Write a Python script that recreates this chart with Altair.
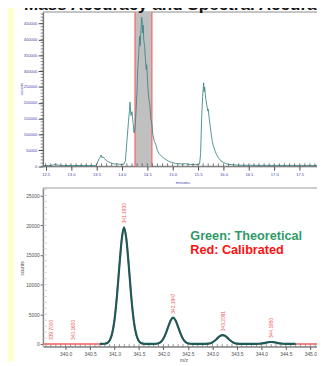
import altair as alt
import pandas as pd

W, H = 317, 358

# ---------------- chromatogram (top panel) ----------------
chrom_time = [12.45, 12.50, 12.55, 12.60, 12.65, 12.69, 12.72, 12.76, 12.80, 12.90,
              13.00, 13.10, 13.20, 13.30, 13.40, 13.48, 13.51, 13.54, 13.57, 13.59,
              13.61, 13.63, 13.66, 13.70, 13.74, 13.78, 13.82, 13.86, 13.90, 13.95,
              14.00, 14.04, 14.07, 14.10, 14.13, 14.15, 14.16, 14.18, 14.20, 14.22,
              14.24, 14.26, 14.28, 14.30, 14.31, 14.33, 14.35, 14.36, 14.38, 14.39,
              14.40, 14.41, 14.42, 14.43, 14.45, 14.46, 14.48, 14.49, 14.51, 14.53,
              14.55, 14.57, 14.59, 14.61, 14.64, 14.67, 14.70, 14.73, 14.77, 14.80,
              14.84, 14.88, 14.92, 14.96, 15.00, 15.05, 15.10, 15.15, 15.20, 15.25,
              15.30, 15.35, 15.40, 15.45, 15.50, 15.53, 15.55, 15.57, 15.59, 15.61,
              15.62, 15.63, 15.65, 15.67, 15.69, 15.70, 15.72, 15.74, 15.76, 15.78,
              15.80, 15.83, 15.86, 15.90, 15.95, 16.00, 16.05, 16.10, 16.20, 16.30,
              16.40, 16.50, 16.60, 16.70, 16.80, 16.90, 17.00, 17.10, 17.20, 17.30,
              17.40, 17.50, 17.60, 17.70, 17.80, 17.90, 18.00]
chrom_counts = [2000, 2300, 2100, 2400, 3800, 7000, 4500, 3200, 2600, 2200,
                2400, 2100, 2300, 2000, 2200, 2100, 6000, 20000, 28000, 35000,
                27000, 30000, 24000, 17000, 13500, 11000, 8500, 7000, 7500, 6000,
                5500, 6500, 17000, 80000, 140000, 175000, 202000, 160000, 172000, 138000,
                105000, 120000, 175000, 240000, 300000, 350000, 410000, 380000, 440000, 470000,
                455000, 420000, 445000, 400000, 375000, 345000, 305000, 320000, 255000, 215000,
                195000, 150000, 135000, 100000, 78000, 68000, 50000, 40000, 33000, 29000,
                24000, 20000, 16000, 13000, 12000, 9000, 8000, 7500, 7000, 8000,
                6500, 6000, 5500, 6000, 5000, 7000, 40000, 150000, 220000, 263000,
                235000, 250000, 215000, 195000, 175000, 180000, 150000, 125000, 100000, 78000,
                65000, 50000, 38000, 27000, 17000, 12000, 8000, 6000, 4300, 3200,
                3000, 2800, 3000, 2700, 2900, 2600, 2800, 2700, 2500, 2700,
                2600, 2500, 2700, 2600, 2500, 2600, 2500]
window_start = [14.26]
window_end = [14.59]

top_x_labels = [12.5, 13.0, 13.5, 14.0, 14.5, 15.0, 15.5, 16.0, 16.5, 17.0, 17.5]
top_x_minor = [round(12.5 + 0.1 * i, 1) for i in range(56)]
top_y_labels = [0, 50000, 100000, 150000, 200000, 250000, 300000, 350000, 400000, 450000]
top_y_minor = [10000 * i for i in range(49)]

# ---------------- mass spectrum (bottom panel) ----------------
spec_mz = [340.70, 340.75, 340.80, 340.85, 340.90, 340.95, 341.00, 341.05, 341.10, 341.15,
           341.193, 341.24, 341.29, 341.34, 341.39, 341.44, 341.49, 341.54, 341.59, 341.65,
           341.75, 341.80, 341.85, 341.90, 341.95, 342.00, 342.05, 342.10, 342.15, 342.195,
           342.245, 342.295, 342.345, 342.395, 342.445, 342.495, 342.545, 342.60, 342.70, 342.80,
           342.86, 342.91, 342.96, 343.01, 343.06, 343.11, 343.16, 343.208, 343.26, 343.31,
           343.36, 343.41, 343.46, 343.51, 343.56, 343.65, 343.80, 343.90, 343.95, 344.00,
           344.05, 344.10, 344.15, 344.195, 344.25, 344.30, 344.35, 344.40, 344.45, 344.50,
           344.60, 344.70]
spec_counts = [0, 20, 40, 160, 580, 1700, 4090, 8120, 13250, 17780,
               19650, 17780, 13250, 8120, 4090, 1700, 580, 160, 40, 0,
               0, 8, 37, 130, 380, 920, 1820, 2975, 3990, 4430,
               3990, 2975, 1820, 920, 380, 130, 37, 8, 0, 0,
               12, 44, 130, 314, 620, 1015, 1360, 1480, 1360, 1015,
               620, 314, 130, 44, 12, 0, 0, 10, 29, 69,
               137, 223, 300, 330, 300, 223, 137, 69, 29, 10,
               0, 0]
calib_left_mz = [339.54]
calib_right_mz = [345.50]

peak_mz = [339.7000, 340.1600, 341.1930, 342.1947, 343.2081, 344.1950]
peak_counts = [0, 0, 19650, 4430, 1480, 330]

bot_x_labels = [340.0, 340.5, 341.0, 341.5, 342.0, 342.5, 343.0, 343.5, 344.0, 344.5, 345.0]
bot_x_minor = [round(339.6 + 0.1 * i, 1) for i in range(60)]
bot_y_labels = [0, 5000, 10000, 15000, 20000, 25000]
bot_y_minor = [1000 * i for i in range(27)]

legend_lines = ["Green: Theoretical", "Red: Calibrated"]
title_text = "Mass Accuracy and Spectral Accuracy"

# ---------------- tables ----------------
chrom_df = pd.DataFrame({"t": chrom_time, "c": chrom_counts})
win_df = pd.DataFrame({"a": window_start, "b": window_end})
win_edges = pd.DataFrame({"t": window_start + window_end})
spec_df = pd.DataFrame({"mz": spec_mz, "c": spec_counts})
calib_df = pd.DataFrame({"mz": calib_left_mz + spec_mz + calib_right_mz,
                         "c": [0] + spec_counts + [0]})
peak_df = pd.DataFrame({"mz": peak_mz, "c": peak_counts})
one = pd.DataFrame({"k": [0]})

FONT = "Liberation Sans"
BLUE = "#4343a8"
GREY_TXT = "#505050"

# pixel geometry of the two panels
TOP_Y0, TOP_BASE = -0.5, 157.7
BOT_Y0, BOT_ZERO, BOT_AXIS = 180, 340, 342.7
LEFT = 36

tx = alt.Scale(domain=[12.45, 18.0], range=[LEFT, 325.3], nice=False, zero=False)
ty = alt.Scale(domain=[0, 484700], range=[TOP_BASE, 0], nice=False)
bx = alt.Scale(domain=[339.54, 345.5], range=[LEFT, 335.2], nice=False, zero=False)
by = alt.Scale(domain=[0, 26264], range=[BOT_ZERO, BOT_Y0], nice=False)

top_x_axis = alt.Axis(orient="bottom", offset=TOP_BASE - H, values=top_x_labels, format=".1f",
                      labelFont=FONT, labelFontSize=4.2, labelColor=BLUE, labelPadding=3,
                      labelFlush=False, labelOverlap=False, tickSize=4, tickColor="#444",
                      domainColor="#444", grid=False, title="minutes", titleFont=FONT,
                      titleFontSize=4.2, titleFontWeight="normal", titleColor=BLUE,
                      titleX=179, titleY=16.5, titleBaseline="middle", titleAlign="center")
top_y_axis = alt.Axis(orient="left", offset=-LEFT, values=top_y_labels, format="d",
                      labelFont=FONT, labelFontSize=4.2, labelColor=BLUE, labelPadding=1.5,
                      tickSize=5, tickColor="#444", domainColor="#444", grid=False,
                      title="counts", titleFont=FONT, titleFontSize=4.2, titleFontWeight="normal",
                      titleColor=BLUE, titleX=-22, titleY=78, titleAngle=270,
                      titleBaseline="middle", titleAlign="center")
bot_x_axis = alt.Axis(orient="bottom", offset=BOT_AXIS - H, values=bot_x_labels, format=".1f",
                      labelFont=FONT, labelFontSize=5, labelColor=GREY_TXT, labelPadding=2,
                      labelFlush=False, labelOverlap=False, tickSize=3, tickColor="#555",
                      domainColor="#555", grid=False, title="m/z", titleFont=FONT,
                      titleFontSize=5, titleFontWeight="normal", titleColor=GREY_TXT,
                      titleX=180, titleY=13.5, titleBaseline="middle", titleAlign="center")
bot_y_axis = alt.Axis(orient="left", offset=-LEFT, values=bot_y_labels, format="d",
                      labelFont=FONT, labelFontSize=5, labelColor=GREY_TXT, labelPadding=1,
                      tickSize=3, tickColor="#555", domainColor="#555", grid=False,
                      title="counts", titleFont=FONT, titleFontSize=5, titleFontWeight="normal",
                      titleColor=GREY_TXT, titleX=-22, titleY=262, titleAngle=270,
                      titleBaseline="middle", titleAlign="center")

yellow = alt.Chart(one).mark_rect(color="#ffffcc").encode(
    x=alt.value(-8), x2=alt.value(6), y=alt.value(-8), y2=alt.value(H))

title = alt.Chart(one).mark_text(text=title_text, font=FONT, fontSize=17.5, fontWeight="bold",
                                 color="#111", align="left", baseline="alphabetic").encode(
    x=alt.value(16.5), y=alt.value(-3))

top_frame = alt.Chart(one).mark_rect(filled=False, stroke="#8a8a8a", strokeWidth=1).encode(
    x=alt.value(LEFT), x2=alt.value(340), y=alt.value(TOP_Y0), y2=alt.value(TOP_BASE))

bot_frame = alt.Chart(one).mark_rect(filled=False, stroke="#9a9a9a", strokeWidth=1).encode(
    x=alt.value(LEFT), x2=alt.value(345), y=alt.value(BOT_Y0), y2=alt.value(BOT_AXIS))

win_rect = alt.Chart(win_df).mark_rect(color="#c0c0c0").encode(
    x=alt.X("a:Q", scale=tx, axis=None), x2="b:Q",
    y=alt.value(TOP_Y0), y2=alt.value(TOP_BASE))

win_rules = alt.Chart(win_edges).mark_rule(color="#f07878", strokeWidth=1.5).encode(
    x=alt.X("t:Q", scale=tx, axis=None), y=alt.value(TOP_Y0), y2=alt.value(TOP_BASE))

top_line = alt.Chart(chrom_df).mark_line(color="#3d8787", strokeWidth=0.9).encode(
    x=alt.X("t:Q", scale=tx, axis=top_x_axis),
    y=alt.Y("c:Q", scale=ty, axis=top_y_axis))

top_xminor = alt.Chart(pd.DataFrame({"t": top_x_minor})).mark_rule(color="#444", strokeWidth=0.7).encode(
    x=alt.X("t:Q", scale=tx, axis=None), y=alt.value(TOP_BASE - 3), y2=alt.value(TOP_BASE))

top_yminor = alt.Chart(pd.DataFrame({"c": top_y_minor})).mark_rule(color="#444", strokeWidth=0.6).encode(
    y=alt.Y("c:Q", scale=ty, axis=None), x=alt.value(LEFT - 2.5), x2=alt.value(LEFT))

bot_xminor = alt.Chart(pd.DataFrame({"mz": bot_x_minor})).mark_rule(color="#666", strokeWidth=0.7).encode(
    x=alt.X("mz:Q", scale=bx, axis=None), y=alt.value(BOT_AXIS - 2.5), y2=alt.value(BOT_AXIS))

bot_yminor = alt.Chart(pd.DataFrame({"c": bot_y_minor})).mark_rule(color="#c4c4c4", strokeWidth=0.7).encode(
    y=alt.Y("c:Q", scale=by, axis=None), x=alt.value(LEFT), x2=alt.value(LEFT + 4))

calib_line = alt.Chart(calib_df).mark_line(color="#f06060", strokeWidth=1.6,
                                            interpolate="monotone").encode(
    x=alt.X("mz:Q", scale=bx, axis=None), y=alt.Y("c:Q", scale=by, axis=None))

spec_line = alt.Chart(spec_df).mark_line(color="#1d5a5a", strokeWidth=2.2,
                                          interpolate="monotone").encode(
    x=alt.X("mz:Q", scale=bx, axis=bot_x_axis), y=alt.Y("c:Q", scale=by, axis=bot_y_axis))

peak_labels = alt.Chart(peak_df).mark_text(angle=270, align="left", baseline="middle", dx=4,
                                           font=FONT, fontSize=5, color="#f05a5a").encode(
    x=alt.X("mz:Q", scale=bx, axis=None), y=alt.Y("c:Q", scale=by, axis=None),
    text=alt.Text("mz:Q", format=".4f"))

legend_green = alt.Chart(one).mark_text(text=legend_lines[0], font=FONT, fontSize=13,
                                        fontWeight="bold", color="#2f9a68", align="left",
                                        baseline="alphabetic").encode(
    x=alt.value(187), y=alt.value(233.7))
legend_red = alt.Chart(one).mark_text(text=legend_lines[1], font=FONT, fontSize=13,
                                      fontWeight="bold", color="#ff1010", align="left",
                                      baseline="alphabetic").encode(
    x=alt.value(187), y=alt.value(248))

chart = alt.layer(
    yellow, top_frame, bot_frame, win_rect, win_rules, top_line, top_xminor, top_yminor,
    title, bot_yminor, bot_xminor, calib_line, spec_line, peak_labels, legend_green, legend_red
).resolve_scale(x="independent", y="independent").properties(
    width=W, height=H, padding=0, background="white",
    autosize=alt.AutoSizeParams(type="none")
).configure_view(strokeWidth=0)

chart.save("out.html", embed_options={"renderer": "svg", "actions": False})
